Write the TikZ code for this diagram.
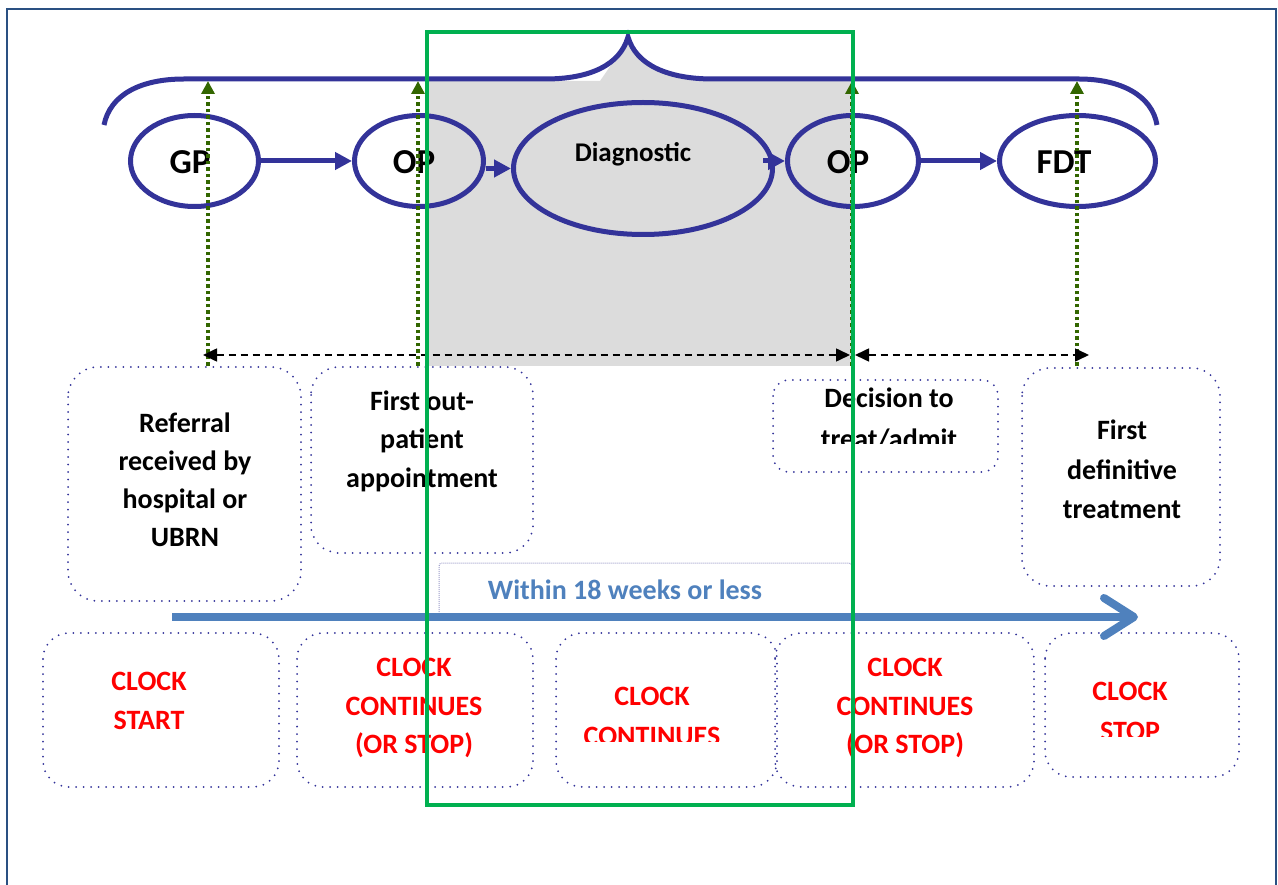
\documentclass[tikz,border=0pt]{standalone}
\usepackage{fontspec}
\setmainfont{Carlito}
\usetikzlibrary{shapes.geometric,arrows.meta}
\definecolor{navy}{HTML}{333399}
\definecolor{frameblue}{HTML}{2A5082}
\definecolor{olivegreen}{HTML}{336600}
\definecolor{boxgreen}{HTML}{00B050}
\definecolor{diaggray}{HTML}{DCDCDC}
\definecolor{steel}{HTML}{4F81BD}
\definecolor{clockred}{HTML}{FF0000}
\definecolor{faint}{HTML}{9A9AC8}
\tikzset{
  stage/.style={ellipse, draw=navy, line width=5pt, inner sep=0pt, minimum height=91pt},
  flow/.style={draw=navy, line width=5pt, -{Triangle[length=17pt,width=17pt]}},
  milestone/.style={draw=navy, line width=2pt, dash pattern=on 0pt off 7.5pt, line cap=round},
  tick/.style={draw=olivegreen, line width=3.5pt, dash pattern=on 3.5pt off 3pt,
    -{Triangle[length=13pt,width=13pt,fill=olivegreen]}},
  span/.style={draw=black, line width=1.6pt, dash pattern=on 7pt off 5pt,
    {Triangle[length=14pt,width=13pt]}-{Triangle[length=14pt,width=13pt]}},
  lbl/.style={font=\fontsize{28}{32}\selectfont\bfseries, anchor=base, inner sep=0pt},
  clk/.style={lbl, text=clockred},
  big/.style={font=\fontsize{35}{40}\selectfont\bfseries, anchor=base, inner sep=0pt},
}
\begin{document}
\begin{tikzpicture}[x=1pt,y=-1pt]
\useasboundingbox (0,0) rectangle (1278,885);
\clip (0,0) rectangle (1278,885);

% page frame
\draw[frameblue, line width=2pt] (7,9) rectangle (1276,900);

% shaded diagnostic period
\fill[diaggray] (425,81) -- (600,81) -- (627,42)
  .. controls (636,66) and (668,81) .. (713,81) -- (852,81) -- (852,366) -- (425,366) -- cycle;

% milestone boxes, upper row
\draw[milestone, rounded corners=30pt] (68,367) rectangle (301,601);
\draw[milestone, rounded corners=28pt] (311,367) rectangle (533,553);
\draw[milestone, rounded corners=16pt] (773,380) rectangle (998,472);
\draw[milestone, rounded corners=28pt] (1022,368) rectangle (1220,586);

% clock boxes, lower row
\draw[milestone, rounded corners=26pt] (43,633) rectangle (279,787);
\draw[milestone, rounded corners=26pt] (297,633) rectangle (533,787);
\draw[milestone, rounded corners=26pt] (556,633) rectangle (777,787);
\draw[milestone, rounded corners=26pt] (775,633) rectangle (1034,787);
\draw[milestone, rounded corners=26pt] (1045,633) rectangle (1239,777);

% 18 week banner
\draw[faint, line width=1pt, densely dotted, rounded corners=3pt] (439,614) -- (439,563) -- (852,563) -- (852,614);
\node[lbl, text=steel] (within) at (625,599) {Within 18 weeks or less};

% 18 week arrow
\coordinate (w0) at (172,617);
\coordinate (w1) at (1134,617);
\draw[steel, line width=8pt] (w0) -- ([xshift=-4pt]w1);
\draw[steel, line width=8pt, line cap=round, line join=round]
  ([shift={(-30,-19)}]w1) -- (w1) -- ([shift={(-30,19)}]w1);

% pathway brace
\draw[navy, line width=5pt]
  (104,125) .. controls (110,95) and (140,79) .. (184,79) -- (545,79)
  .. controls (590,79) and (620,65) .. (628,37)
  .. controls (636,65) and (668,79) .. (713,79) -- (1079,79)
  .. controls (1120,79) and (1152,95) .. (1157,125);

% pathway stages
\node[stage, minimum width=128pt] (gp)  at (194.5,161) {};
\node[stage, minimum width=129pt] (op1) at (419,161) {};
\node[stage, minimum width=259pt, minimum height=132pt, fill=diaggray] (dg) at (643,168.5) {};
\node[stage, minimum width=131pt] (op2) at (853,161) {};
\node[stage, minimum width=156pt] (fdt) at (1077.5,161) {};

\draw[flow] (gp.east) -- (op1.west);
\draw[flow] (op1.east |- dg.west) -- (dg.west);
\draw[flow] ([xshift=-12pt]dg.east |- op2.west) -- (op2.west);
\draw[flow] (op2.east) -- (fdt.west);

\node[big] (tgp)  at (190,174) {GP};
\node[big] (top1) at (414,174) {OP};
\node[lbl, font=\fontsize{27}{30}\selectfont\bfseries] (tdg) at (633,162) {Diagnostic};
\node[big] (top2) at (848,174) {OP};
\node[big] (tfdt) at (1064,174) {FDT};

% milestone texts
\node[lbl] (ref1) at (185,432) {Referral};
\node[lbl] (ref2) at (185,470) {received by};
\node[lbl] (ref3) at (185,508) {hospital or};
\node[lbl] (ref4) at (185,546) {UBRN};

\node[lbl] (fo1) at (422,410) {First out-};
\node[lbl] (fo2) at (422,449) {patient};
\node[lbl] (fo3) at (422,487) {appointment};

\node[lbl] (dt1) at (889,408) {Decision to};
\begin{scope}
  \clip (773,420) rectangle (998,443);
  \node[lbl] (dt2) at (889,448) {treat/admit};
\end{scope}

\node[lbl] (fd1) at (1122,439) {First};
\node[lbl] (fd2) at (1122,479) {definitive};
\node[lbl] (fd3) at (1122,518) {treatment};

% clock texts
\node[clk] (cs1) at (149,690) {CLOCK};
\node[clk] (cs2) at (149,729) {START};

\node[clk] (ca1) at (414,676) {CLOCK};
\node[clk] (ca2) at (414,715) {CONTINUES};
\node[clk] (ca3) at (414,753) {(OR STOP)};

\node[clk] (cm1) at (652,705) {CLOCK};
\begin{scope}
  \clip (556,715) rectangle (777,741);
  \node[clk] (cm2) at (652,745) {CONTINUES};
\end{scope}

\node[clk] (cb1) at (905,676) {CLOCK};
\node[clk] (cb2) at (905,715) {CONTINUES};
\node[clk] (cb3) at (905,753) {(OR STOP)};

\node[clk] (ce1) at (1130,700) {CLOCK};
\begin{scope}
  \clip (1045,710) rectangle (1239,736);
  \node[clk] (ce2) at (1130,740) {STOP};
\end{scope}

% milestone markers
\coordinate (mGPb) at (208,366);  \coordinate (mGPt) at (208,81);
\coordinate (mOPb) at (418,366);  \coordinate (mOPt) at (418,81);
\coordinate (mDTb) at (852,366);  \coordinate (mDTt) at (852,81);
\coordinate (mFDb) at (1077,366); \coordinate (mFDt) at (1077,81);
\draw[tick] (mGPb) -- (mGPt);
\draw[tick] (mOPb) -- (mOPt);
\draw[tick] (mDTb) -- (mDTt);
\draw[tick] (mFDb) -- (mFDt);

% waiting spans
\coordinate (s1) at (203,355);
\coordinate (s2) at (850,355);
\coordinate (s3) at (855,355);
\coordinate (s4) at (1089,355);
\draw[span] (s1) -- (s2);
\draw[span] (s3) -- (s4);

% diagnostic window
\draw[boxgreen, line width=4pt] (427,32) rectangle (853,805);
\end{tikzpicture}
\end{document}
